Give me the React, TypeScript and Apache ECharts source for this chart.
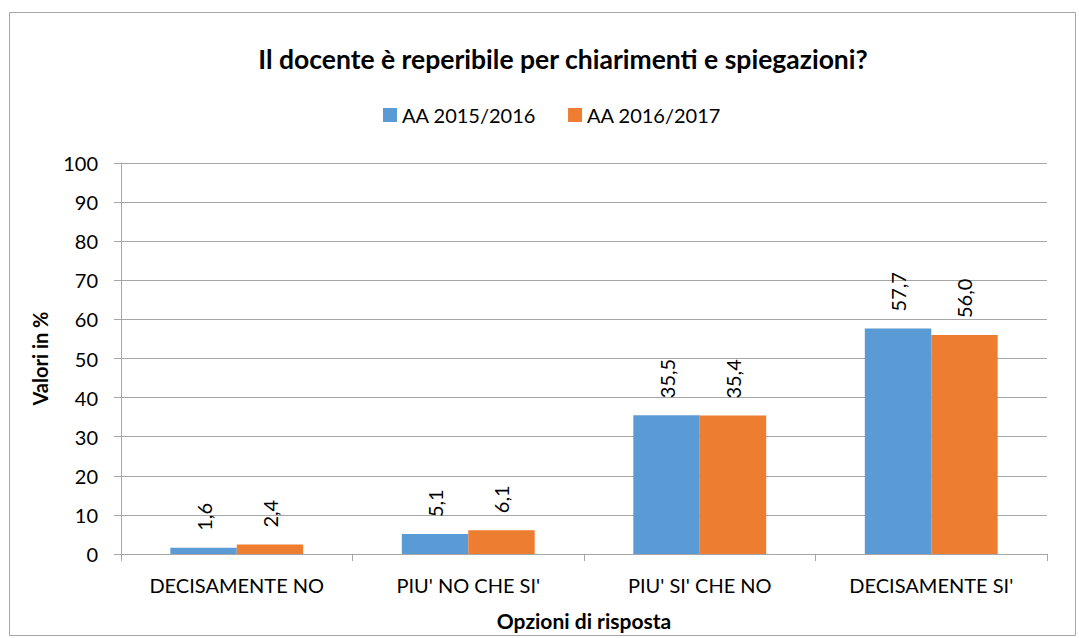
import React, { useEffect, useRef } from "react";
import * as echarts from "echarts";

const categories = ["DECISAMENTE NO", "PIU' NO CHE SI'", "PIU' SI' CHE NO", "DECISAMENTE SI'"];
const series2015 = [1.6, 5.1, 35.5, 57.7];
const series2016 = [2.4, 6.1, 35.4, 56.0];
const seriesNames = ["AA 2015/2016", "AA 2016/2017"];
const titleText = "Il docente è reperibile per chiarimenti e spiegazioni?";
const yAxisName = "Valori in %";
const xAxisName = "Opzioni di risposta";

const FONT = "Lato, 'Open Sans', sans-serif";

export default function App() {
  const ref = useRef<HTMLDivElement>(null);
  useEffect(() => {
    document.body.style.margin = "0";
    const chart = echarts.init(ref.current!, null, { renderer: "svg" });
    const fmt = (p: any) => Number(p.value).toFixed(1).replace(".", ",");
    const labelCfg = {
      show: true,
      position: "top",
      rotate: 90,
      align: "left",
      verticalAlign: "middle",
      distance: 17,
      color: "#000",
      fontSize: 20,
      fontFamily: FONT,
      formatter: fmt,
    };
    chart.setOption({
      animation: false,
      backgroundColor: "#fff",
      textStyle: { fontFamily: FONT },
      graphic: [
        {
          type: "rect",
          shape: { x: 9.5, y: 12.5, width: 1066, height: 623 },
          style: { fill: "none", stroke: "#A6A6A6", lineWidth: 1 },
          silent: true,
        },
      ],
      title: {
        text: titleText,
        left: 558,
        textAlign: "center",
        top: 40,
        textStyle: { fontSize: 26.5, fontWeight: "bold", color: "#000", fontFamily: FONT },
      },
      legend: {
        top: 100,
        left: 378,
        itemWidth: 14,
        itemHeight: 14,
        itemGap: 32,
        icon: "rect",
        textStyle: { fontSize: 20, color: "#000", fontFamily: FONT },
        data: seriesNames,
      },
      grid: { left: 121, right: 32, top: 163, bottom: 84 },
      xAxis: {
        type: "category",
        data: categories,
        name: xAxisName,
        nameLocation: "middle",
        nameGap: 56,
        nameTextStyle: {
          fontSize: 21,
          fontWeight: "bold",
          color: "#000",
          fontFamily: FONT,
        },
        axisLine: { lineStyle: { color: "#A6A6A6" } },
        axisTick: { show: true, length: 7, lineStyle: { color: "#A6A6A6" } },
        axisLabel: { fontSize: 20, color: "#000", margin: 21, fontFamily: FONT },
      },
      yAxis: {
        type: "value",
        min: 0,
        max: 100,
        interval: 10,
        name: yAxisName,
        nameLocation: "middle",
        nameGap: 71,
        nameTextStyle: { fontSize: 20, fontWeight: "bold", color: "#000", fontFamily: FONT },
        axisLine: { show: true, lineStyle: { color: "#A6A6A6" } },
        axisTick: { show: true, length: 7, lineStyle: { color: "#A6A6A6" } },
        axisLabel: { fontSize: 20, color: "#000", margin: 23, fontFamily: FONT },
        splitLine: { lineStyle: { color: "#A6A6A6" } },
      },
      series: [
        {
          name: seriesNames[0],
          type: "bar",
          data: series2015,
          barWidth: "28.7%",
          barGap: "0%",
          itemStyle: { color: "#5B9BD5" },
          label: labelCfg,
        },
        {
          name: seriesNames[1],
          type: "bar",
          data: series2016,
          barWidth: "28.7%",
          barGap: "0%",
          itemStyle: { color: "#ED7D31" },
          label: labelCfg,
        },
      ],
    });
    return () => chart.dispose();
  }, []);
  return <div ref={ref} style={{ width: 1079, height: 638 }} />;
}
